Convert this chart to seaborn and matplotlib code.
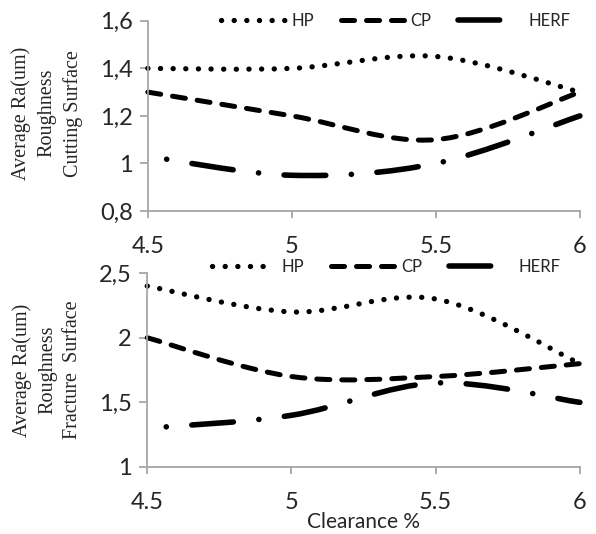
import numpy as np
import matplotlib
matplotlib.use('Agg')
import matplotlib.pyplot as plt
from matplotlib.path import Path
from matplotlib.patches import PathPatch
from matplotlib.lines import Line2D
from matplotlib.ticker import FuncFormatter
import seaborn as sns

# data
clearance = [4.5, 5.0, 5.5, 6.0]
series = ['HP', 'CP', 'HERF']
cut_hp = [1.40, 1.40, 1.45, 1.30]
cut_cp = [1.30, 1.20, 1.10, 1.30]
cut_herf = [1.03, 0.95, 1.00, 1.20]
frac_hp = [2.40, 2.20, 2.30, 1.80]
frac_cp = [2.00, 1.70, 1.70, 1.80]
frac_herf = [1.30, 1.40, 1.65, 1.50]
x_ticks = [4.5, 5, 5.5, 6]
cut_ticks = [0.8, 1.0, 1.2, 1.4, 1.6]
frac_ticks = [1.0, 1.5, 2.0, 2.5]

sns.set_style('ticks')
plt.rcParams['font.family'] = ['Lato', 'DejaVu Sans']
plt.rcParams['lines.scale_dashes'] = False

GRAY = '#A6A6A6'
styles = {
    'HP': dict(lw=3.8, ls=(0, (0.1, 9.0))),
    'CP': dict(lw=3.6, ls=(0, (9.4, 8.6))),
    'HERF': dict(lw=4.0, ls=(34.7, (30, 18.4, 0.1, 18.4))),
}


def smooth_path(xs, ys):
    # excel-like smoothed line: catmull-rom as cubic bezier
    pts = np.column_stack([xs, ys]).astype(float)
    ext = np.vstack([pts[0], pts, pts[-1]])
    verts = [pts[0]]
    codes = [Path.MOVETO]
    for i in range(len(pts) - 1):
        p0, p1, p2, p3 = ext[i], ext[i + 1], ext[i + 2], ext[i + 3]
        verts += [p1 + (p2 - p0) / 6, p2 - (p3 - p1) / 6, p2]
        codes += [Path.CURVE4] * 3
    return Path(verts, codes)


def comma(v, pos):
    return f"{v:g}".replace('.', ',')


fig = plt.figure(figsize=(5.96, 5.34), dpi=100)
ax1 = fig.add_axes([0.248, 0.605, 0.725, 0.356])
ax2 = fig.add_axes([0.247, 0.1255, 0.726, 0.363])

panels = [
    (ax1, [cut_hp, cut_cp, cut_herf], cut_ticks, 0.574, 1.0,
     'Average Ra(um)\nRoughness\nCutting Surface', 0.788),
    (ax2, [frac_hp, frac_cp, frac_herf], frac_ticks, 0.552, 1.03,
     'Average Ra(um)\nRoughness\nFracture  Surface', 0.307),
]

for ax, vals, yt, lx, ly, ylab, yl in panels:
    for name, v in zip(series, vals):
        st = styles[name]
        patch = PathPatch(smooth_path(clearance, v), fill=False, edgecolor='black',
                          linewidth=st['lw'], linestyle=st['ls'], capstyle='round',
                          clip_on=False)
        ax.add_patch(patch)
    ax.set_xlim(4.5, 6)
    ax.set_ylim(yt[0], yt[-1])
    ax.set_xticks(x_ticks)
    ax.set_xticklabels([f"{t:g}" for t in x_ticks])
    ax.set_yticks(yt)
    ax.yaxis.set_major_formatter(FuncFormatter(comma))
    sns.despine(ax=ax)
    for s in ['left', 'bottom']:
        ax.spines[s].set_color(GRAY)
        ax.spines[s].set_linewidth(1.3)
    ax.tick_params(axis='y', direction='out', length=6, width=1.3, color=GRAY,
                   labelsize=17, pad=5)
    ax.tick_params(axis='x', direction='out', length=5, width=1.3, color=GRAY,
                   labelsize=17, pad=13)
    handles = [Line2D([], [], color='black', linewidth=styles[n]['lw'],
                      linestyle=(0, styles[n]['ls'][1]), solid_capstyle='round',
                      dash_capstyle='round') for n in series]
    ax.legend(handles, series, loc='center', bbox_to_anchor=(lx, ly), ncol=3,
              frameon=False, fontsize=12, handlelength=3.8, handletextpad=0.4,
              columnspacing=1.6, borderaxespad=0)
    fig.text(0.079, yl, ylab, rotation=90, ha='center', va='center',
             multialignment='center', fontsize=14.5, family='Liberation Serif',
             linespacing=1.45)

ax2.set_xlabel('Clearance %', fontsize=15, labelpad=-1)

fig.savefig('out.png', dpi=100)
